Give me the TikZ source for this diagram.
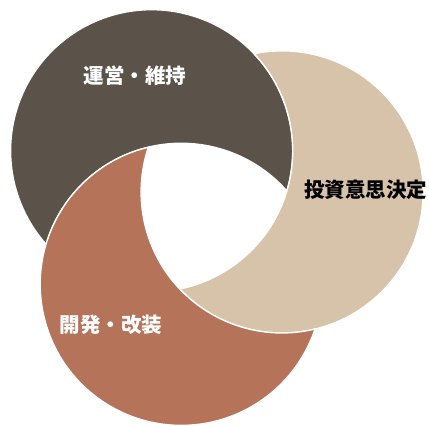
\documentclass[tikz,border=0pt]{standalone}
\usepackage{fontspec}
\usetikzlibrary{calc}
\newfontfamily\cjk{Noto Sans CJK JP}
\definecolor{darkbrown}{RGB}{91,82,73}
\definecolor{beige}{RGB}{215,195,169}
\definecolor{terra}{RGB}{181,116,90}
\begin{document}
\begin{tikzpicture}[x=1pt,y=1pt,
  crescent/.style={draw=white,line width=1.3pt,line join=round},
  lbl/.style={font=\cjk\bfseries\fontsize{20.5}{24}\selectfont,inner sep=0pt}]
\useasboundingbox (0,0) rectangle (429,-426);
\coordinate (O) at (205,-209);
% one crescent (circle A minus circle C), rotated for the others
\foreach \rot/\col in {0/darkbrown,-120/beige,-240/terra}{
  \begin{scope}[rotate around={\rot:(O)}]
    \coordinate (A) at ($(O)+(132.5:79)$);
    \coordinate (C) at ($(O)+(252.5:79)$);
    \path[crescent,fill=\col] ($(A)+(-16.5:141)$)
      arc[start angle=-16.5,end angle=221.5,radius=141]
      arc[start angle=163.5,end angle=41.5,radius=141] -- cycle;
  \end{scope}
}
\node[lbl,text=white] (op) at (135,-76) {運営・維持};
\node[lbl,text=black] (inv) at (365.5,-190) {投資意思決定};
\node[lbl,text=white] (dev) at (111,-325) {開発・改装};
\end{tikzpicture}
\end{document}
